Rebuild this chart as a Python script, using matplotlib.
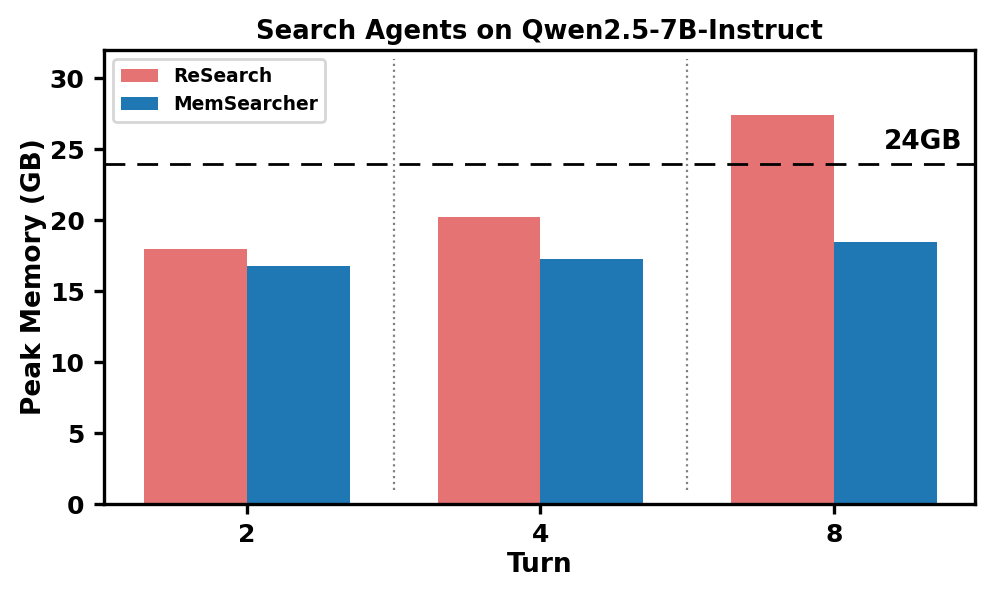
import numpy as np
import matplotlib
matplotlib.use("Agg")
import matplotlib.pyplot as plt

TURNS = ["2", "4", "8"]
RESEARCH = [18.0, 20.2, 27.4]
MEMSEARCHER = [16.8, 17.3, 18.5]
LIMIT = 24
RED, BLUE = "#e57373", "#1f77b4"

plt.rcParams["font.family"] = "DejaVu Sans"
plt.rcParams["font.weight"] = "bold"

fig = plt.figure(figsize=(4.985, 2.99), dpi=200)
ax = fig.add_axes([104 / 997, 94 / 598, 871 / 997, 454 / 598])

x = np.arange(len(TURNS))
w = 0.35
ax.bar(x - w / 2, RESEARCH, w, color=RED, label="ReSearch")
ax.bar(x + w / 2, MEMSEARCHER, w, color=BLUE, label="MemSearcher")

ax.axhline(LIMIT, color="black", lw=1.0, ls=(0, (7.5, 4.3)))
ax.text(0.985, (LIMIT + 0.6) / 32, f"{LIMIT}GB", transform=ax.transAxes,
        ha="right", va="bottom", fontsize=9.5, fontweight="bold")
for xv in x[:-1] + 0.5:
    ax.axvline(xv, ymin=1 / 32, ymax=31.4 / 32, color="gray", ls=":", lw=0.8)

ax.set_ylim(0, 32)
ax.set_xlim(-0.486, 2.48)
ax.set_xticks(x)
ax.set_xticklabels(TURNS)
ax.set_yticks([0, 5, 10, 15, 20, 25, 30])
ax.tick_params(labelsize=9, width=1.2, length=3.5)
for lab in ax.get_xticklabels() + ax.get_yticklabels():
    lab.set_fontweight("bold")
for sp in ax.spines.values():
    sp.set_linewidth(1.2)

ax.set_xlabel("Turn", fontsize=9.5, fontweight="bold", labelpad=1.5)
ax.set_ylabel("Peak Memory (GB)", fontsize=9.5, fontweight="bold", labelpad=1)
ax.set_title("Search Agents on Qwen2.5-7B-Instruct", fontsize=9.3, fontweight="bold", pad=4)
ax.legend(loc="upper left", prop={"size": 6.7, "weight": "bold"}, handlelength=2.0)

fig.savefig("out.png", dpi=200)
